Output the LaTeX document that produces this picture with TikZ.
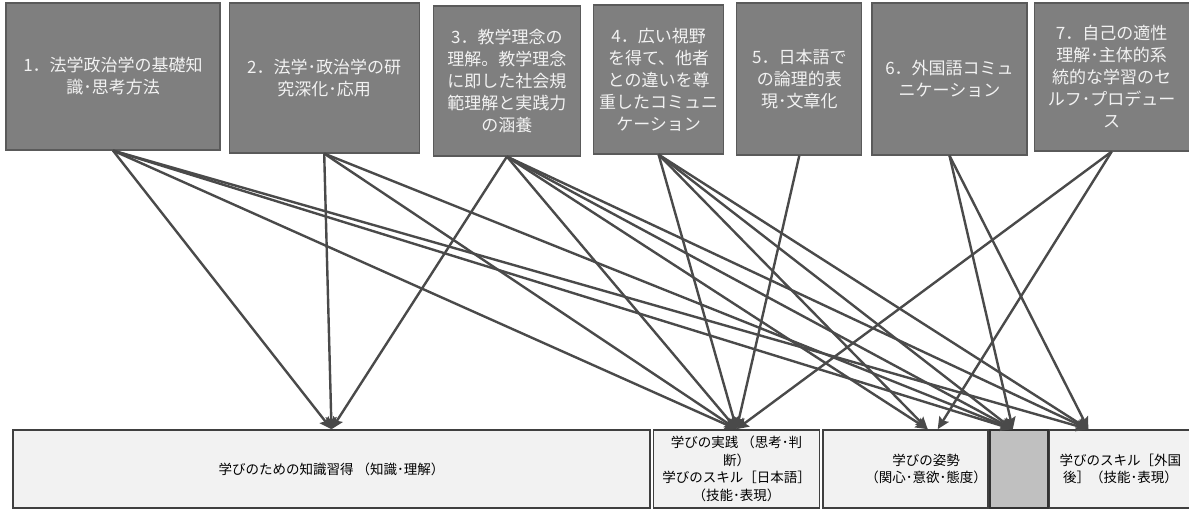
\documentclass[tikz,border=0pt]{standalone}
\usepackage{fontspec}
\setmainfont{Noto Sans CJK JP}
\usetikzlibrary{arrows.meta, positioning}
\definecolor{boxfill}{HTML}{7F7F7F}
\definecolor{boxedge}{HTML}{5A5A5A}
\definecolor{boxtext}{HTML}{F2F2F2}
\definecolor{areafill}{HTML}{F2F2F2}
\definecolor{areaedge}{HTML}{404040}
\definecolor{blankfill}{HTML}{C0C0C0}
\definecolor{linegray}{HTML}{4A4A4A}
\tikzstyle{policy} = [rectangle, draw=boxedge, fill=boxfill, text=boxtext, line width=1.2pt, align=center, inner sep=2pt, font=\fontsize{17}{22}\selectfont]
\tikzstyle{area} = [rectangle, draw=areaedge, fill=areafill, line width=1.6pt, align=center, inner sep=1pt, minimum height=78pt, font=\fontsize{13.5}{17.5}\selectfont]
\tikzstyle{areatext} = [align=center, inner sep=1pt, font=\fontsize{13.5}{17.5}\selectfont]
\tikzstyle{arrow} = [line width=2.4pt, draw=linegray, ->, >={Stealth[length=12pt, width=11pt, inset=2pt]}]
\begin{document}
\begin{tikzpicture}[x=1pt, y=-1pt]
\useasboundingbox (0,0) rectangle (1189,510);
% policies
\node (dp1) [policy, minimum width=214pt, minimum height=147pt] at (113,76.5) {1．法学政治学の基礎知\\識･思考方法};
\node (dp2) [policy, minimum width=190pt, minimum height=150pt, right=8pt of dp1, yshift=-1.5pt] {2．法学･政治学の研\\究深化･応用};
\node (dp3) [policy, minimum width=147pt, minimum height=150pt, right=13pt of dp2, yshift=-3pt] {3．教学理念の\\理解。教学理念\\に即した社会規\\範理解と実践力\\の涵養};
\node (dp4) [policy, minimum width=130pt, minimum height=149pt, right=12pt of dp3, yshift=1.5pt] {4．広い視野\\を得て、他者\\との違いを尊\\重したコミュニ\\ケーション};
\node (dp5) [policy, minimum width=125pt, minimum height=152pt, right=12pt of dp4, yshift=0.5pt] {5．日本語で\\の論理的表\\現･文章化};
\node (dp6) [policy, minimum width=155pt, minimum height=152pt, right=9pt of dp5] {6．外国語コミュ\\ニケーション};
\node (dp7) [policy, minimum width=155pt, minimum height=148pt, right=6pt of dp6, yshift=2pt] {7．自己の適性\\理解･主体的系\\統的な学習のセ\\ルフ･プロデュー\\ス};

% learning areas
\node (know) [area, minimum width=637pt] at (331.5,469) {学びのための知識習得 （知識･理解）};
\node (think) [area, minimum width=166pt, right=2pt of know] {学びの実践 （思考･判\\断）\\学びのスキル［日本語］\\（技能･表現）};
\node (attit) [area, minimum width=165pt, right=2pt of think] {};
\node [areatext, anchor=east] at ([xshift=-1pt]attit.east) {学びの姿勢\\（関心･意欲･態度）};
\node (blank) [area, fill=blankfill, draw=black!80, minimum width=58pt, right=0pt of attit] {};
\node (lang) [area, minimum width=142pt, right=0pt of blank] {学びのスキル［外国\\後］（技能･表現）};

\coordinate (attitL) at ([xshift=22pt]attit.north);
\coordinate (attitR) at ([xshift=32pt]attit.north);
\coordinate (blankin) at ([xshift=-6pt]blank.north);
\coordinate (langin) at ([xshift=-32pt]lang.north);

\draw [arrow] (dp1.south) -- (know.north);
\draw [arrow] (dp1.south) -- (think.north);
\draw [arrow] (dp1.south) -- (blankin);
\draw [arrow] (dp1.south) -- (langin);

\draw [arrow] (dp2.south) -- (know.north);
\draw [arrow] (dp2.south) -- (think.north);
\draw [arrow] (dp2.south) -- (blankin);

\draw [arrow] (dp3.south) -- (know.north);
\draw [arrow] (dp3.south) -- (think.north);
\draw [arrow] (dp3.south) -- (attitL);
\draw [arrow] (dp3.south) -- (blankin);
\draw [arrow] (dp3.south) -- (langin);

\draw [arrow] (dp4.south) -- (think.north);
\draw [arrow] (dp4.south) -- (attitL);
\draw [arrow] (dp4.south) -- (blankin);
\draw [arrow] (dp4.south) -- (langin);

\draw [arrow] (dp5.south) -- (think.north);

\draw [arrow] (dp6.south) -- (blankin);
\draw [arrow] (dp6.south) -- (langin);

\draw [arrow] (dp7.south) -- (think.north);
\draw [arrow] (dp7.south) -- (attitR);
\end{tikzpicture}
\end{document}
